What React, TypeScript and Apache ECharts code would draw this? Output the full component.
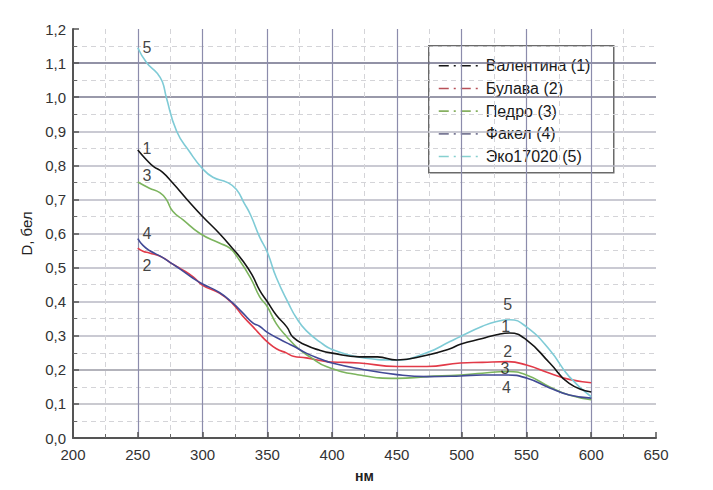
import React, { useEffect, useRef } from "react";
import * as echarts from "echarts";

const seriesNames = ["Валентина (1)", "Булава (2)", "Педро (3)", "Факел (4)", "Эко17020 (5)"];
const curveColors = ["#151515", "#e23a48", "#7cb45e", "#424a96", "#7fcbd6"];
const legendColors = ["#151515", "#b85058", "#86b060", "#7a7a96", "#86d0d0"];

const valentina: [number, number][] = [
  [250, 0.845], [257, 0.815], [262, 0.797], [269, 0.78], [277, 0.748], [288, 0.7], [300, 0.65],
  [313, 0.6], [323, 0.557], [331, 0.52], [338, 0.48], [344, 0.434], [350, 0.4], [357, 0.36],
  [365, 0.326], [370, 0.295], [380, 0.272], [390, 0.258], [400, 0.249], [421, 0.238],
  [435, 0.238], [450, 0.229], [473, 0.243], [491, 0.262], [499, 0.275], [516, 0.292],
  [527, 0.303], [537, 0.308], [550, 0.288], [568, 0.22], [583, 0.16], [600, 0.135],
];
const bulava: [number, number][] = [
  [250, 0.557], [254, 0.548], [259, 0.543], [269, 0.53], [277, 0.51], [283, 0.497], [293, 0.472],
  [300, 0.448], [313, 0.425], [323, 0.395], [331, 0.358], [339, 0.326], [344, 0.305], [350, 0.282],
  [357, 0.262], [365, 0.249], [370, 0.24], [380, 0.235], [396, 0.224], [400, 0.223], [421, 0.22],
  [450, 0.21], [473, 0.21], [499, 0.22], [516, 0.222], [535, 0.224], [550, 0.214], [568, 0.19],
  [583, 0.172], [600, 0.162],
];
const pedro: [number, number][] = [
  [250, 0.751], [259, 0.733], [267, 0.72], [272, 0.7], [277, 0.665], [285, 0.64], [298, 0.6],
  [313, 0.572], [321, 0.557], [327, 0.53], [337, 0.47], [344, 0.415], [350, 0.385], [357, 0.335],
  [365, 0.297], [374, 0.262], [383, 0.238], [396, 0.209], [421, 0.185], [450, 0.175],
  [473, 0.18], [499, 0.185], [516, 0.19], [535, 0.195], [550, 0.185], [568, 0.15], [583, 0.126],
  [600, 0.112],
];
const fakel: [number, number][] = [
  [250, 0.585], [254, 0.565], [259, 0.55], [269, 0.53], [277, 0.51], [283, 0.495], [293, 0.468],
  [300, 0.452], [313, 0.427], [323, 0.397], [331, 0.367], [339, 0.337], [344, 0.328], [350, 0.31],
  [365, 0.279], [370, 0.27], [380, 0.249], [391, 0.232], [400, 0.22], [421, 0.203], [450, 0.186],
  [473, 0.18], [499, 0.182], [516, 0.185], [535, 0.185], [550, 0.176], [568, 0.147],
  [583, 0.126], [600, 0.117],
];
const eko: [number, number][] = [
  [250, 1.145], [257, 1.1], [265, 1.07], [269, 1.045], [272, 1.0], [280, 0.9], [290, 0.84],
  [300, 0.79], [308, 0.765], [319, 0.75], [326, 0.73], [332, 0.69], [337, 0.655], [344, 0.59],
  [350, 0.545], [357, 0.47], [367, 0.39], [372, 0.355], [380, 0.315], [393, 0.275], [400, 0.26],
  [421, 0.237], [450, 0.229], [473, 0.25], [491, 0.283], [499, 0.298], [516, 0.328],
  [527, 0.342], [537, 0.347], [550, 0.326], [568, 0.258], [583, 0.18], [600, 0.121],
];
const seriesData = [valentina, bulava, pedro, fakel, eko];

const startLabels: [number, number, string][] = [
  [257, 1.147, "5"], [257, 0.85, "1"], [257, 0.77, "3"], [257, 0.6, "4"], [257, 0.505, "2"],
];
const endLabels: [number, number, string][] = [
  [535.5, 0.392, "5"], [534, 0.326, "1"], [535.5, 0.254, "2"], [533.5, 0.203, "3"], [534.5, 0.148, "4"],
];

const xTicks = { min: 200, max: 650, interval: 50 };
const yTicks = { min: 0, max: 1.2, interval: 0.1 };

const fmtY = (v: number) => v.toFixed(1).replace(".", ",");

export default function App() {
  const ref = useRef<HTMLDivElement>(null);
  useEffect(() => {
    if (!ref.current) return;
    const chart = echarts.init(ref.current, null, { renderer: "svg" });
    const font = "Liberation Sans, Arial, sans-serif";
    const hColors = [
      "#b8b8c0", "#9a9aa4", "#b8b8c4", "#b8b8c4", "#b8b8c4", "#b8b8c4", "#b8b8c4",
      "#b8b8c4", "#b8b8c4", "#77778e", "#6e6e88", "#6e6e88", "#b8b8c4",
    ];
    const lines = seriesData.map((d, i) => ({
      name: seriesNames[i],
      type: "line",
      data: d,
      smooth: 0.5,
      showSymbol: false,
      symbol: "none",
      color: curveColors[i],
      lineStyle: { color: curveColors[i], width: 1.6 },
      z: 3 + (i === 0 ? 1 : 0),
    }));
    const labelSeries = (arr: [number, number, string][]) => ({
      type: "scatter",
      symbolSize: 0,
      silent: true,
      data: arr.map((a) => ({ value: [a[0], a[1]], name: a[2] })),
      label: {
        show: true,
        position: "inside",
        formatter: (p: any) => p.name,
        color: "#111",
        fontSize: 16,
        lineHeight: 14,
        fontFamily: font,
      },
      z: 5,
    });
    const legendRowH = 22.7;
    const legendChildren: any[] = [
      {
        type: "rect",
        shape: { x: 0, y: 0, width: 185, height: 127 },
        style: { fill: "#ffffff", stroke: "#6a6a6a", lineWidth: 1.5 },
      },
    ];
    seriesNames.forEach((n, i) => {
      const y = 20 + i * legendRowH;
      legendChildren.push({
        type: "line",
        shape: { x1: 10, y1: y, x2: 50, y2: y },
        style: { stroke: legendColors[i], lineWidth: 1.6, lineDash: [10, 5, 2, 5] },
      });
      legendChildren.push({
        type: "text",
        x: 57,
        y,
        style: {
          text: n,
          fill: "#1a1a1a",
          fontSize: 16,
          fontFamily: font,
          verticalAlign: "middle",
          align: "left",
        },
      });
    });
    chart.setOption({
      animation: false,
      backgroundColor: "#ffffff",
      grid: { left: 73, top: 29, right: 57, bottom: 52, containLabel: false },
      graphic: [{ type: "group", left: 428, top: 45, z: 100, children: legendChildren }],
      xAxis: {
        type: "value",
        ...xTicks,
        name: "нм",
        nameLocation: "middle",
        nameGap: 31,
        nameTextStyle: { fontSize: 14, fontWeight: "bold", color: "#222", fontFamily: font },
        axisLine: { show: true, onZero: false, lineStyle: { color: "#555", width: 2 } },
        axisTick: { show: true, inside: true, length: 6, lineStyle: { color: "#555", width: 1.5 } },
        minorTick: { show: true, splitNumber: 2, length: 4, lineStyle: { color: "#666" } },
        axisLabel: { fontSize: 15, color: "#333", margin: 9, fontFamily: font },
        splitLine: {
          show: true,
          showMinLine: false,
          showMaxLine: false,
          lineStyle: { color: "#8c8cac", width: 1.2 },
        },
        minorSplitLine: { show: true, lineStyle: { color: "#d4d4d8", type: [5, 4], width: 1 } },
      },
      yAxis: {
        type: "value",
        ...yTicks,
        name: "D, бел",
        nameLocation: "middle",
        nameGap: 39,
        nameRotate: 90,
        nameTextStyle: { fontSize: 15, color: "#222", fontFamily: font },
        axisLine: { show: true, onZero: false, lineStyle: { color: "#555", width: 2 } },
        axisTick: { show: true, inside: true, length: 6, lineStyle: { color: "#555", width: 1.5 } },
        minorTick: { show: true, splitNumber: 2, length: 4, lineStyle: { color: "#666" } },
        axisLabel: { fontSize: 15, color: "#333", margin: 7, formatter: fmtY, fontFamily: font },
        splitLine: {
          show: true,
          showMinLine: false,
          showMaxLine: false,
          lineStyle: { color: hColors, width: 1.5 },
        },
        minorSplitLine: { show: true, lineStyle: { color: "#d4d4d8", type: [5, 4], width: 1 } },
      },
      series: [...lines, labelSeries(startLabels), labelSeries(endLabels)],
    });
    return () => chart.dispose();
  }, []);
  return (
    <div
      ref={ref}
      style={{ position: "fixed", left: 0, top: 0, width: 713, height: 490, background: "#fff" }}
    />
  );
}
